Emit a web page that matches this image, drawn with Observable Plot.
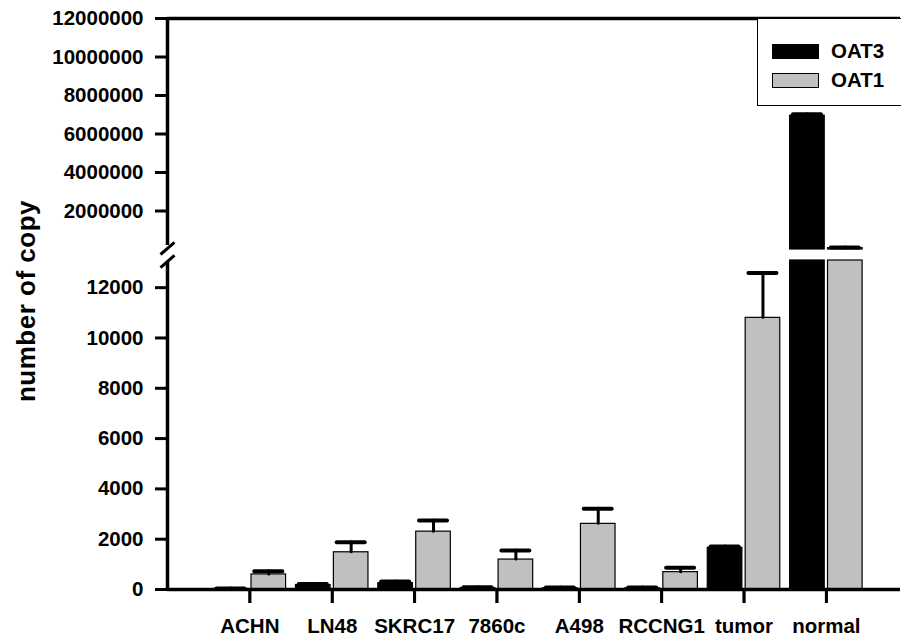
<!DOCTYPE html>
<html>
<head>
<meta charset="utf-8">
<script src="https://cdn.jsdelivr.net/npm/d3@7"></script>
<script src="https://cdn.jsdelivr.net/npm/@observablehq/plot@0.6"></script>
<style>
  body { margin: 0; background: #fff; }
  #chart { position: relative; width: 901px; height: 637px; overflow: hidden; background: #fff;
           font-family: "Liberation Sans", Arial, sans-serif; font-weight: bold; color: #000; }
  #chart svg { position: absolute; left: 0; top: 0; }
  #chart g[aria-label="y-axis tick"] { stroke-width: 3px; }
  #chart g[aria-label="x-axis tick"] { stroke-width: 3px; }
  #ylabel { position: absolute; left: 26px; top: 301px; transform: translate(-50%, -50%) rotate(-90deg);
            white-space: nowrap; font-size: 26px; letter-spacing: 0.5px; }
  #legend { position: absolute; left: 757px; top: 18px; width: 160px; height: 88px; box-sizing: border-box;
            border: 1.5px solid #000; background: #fff; }
  .item { position: absolute; left: 14px; height: 16px; display: flex; align-items: center; font-size: 20.5px; }
  .sw { width: 47px; height: 15px; box-sizing: border-box; border: 1.2px solid #000; margin-right: 12px; }
</style>
</head>
<body>
<div id="chart"></div>
<script>
// ---- data ----
const categories = ["ACHN", "LN48", "SKRC17", "7860c", "A498", "RCCNG1", "tumor", "normal"];
const series = ["OAT3", "OAT1"];
const oat3Values = [20, 180, 250, 60, 50, 50, 1660, 6950000];
const oat3Errors = [20, 40, 70, 30, 30, 30, 50, 80000];
const oat1Values = [600, 1480, 2300, 1190, 2610, 690, 10800, 70000];
const oat1Errors = [130, 400, 440, 360, 600, 170, 1780, 40000];
const upperTicks = [2000000, 4000000, 6000000, 8000000, 10000000, 12000000];
const lowerTicks = [0, 2000, 4000, 6000, 8000, 10000, 12000];
const seriesColors = ["#000000", "#c0c0c0"];
const axisLabel = "number of copy";

// ---- layout constants ----
const W = 901, H = 637;
const lowerTop = 260, lowerBottom = 589;
const lowerMax = 13080, upperMax = 12000000;
const barGap = 0.02, barSpan = 0.42, capHalf = 0.17;
const xTickDepth = 14 * lowerMax / (lowerBottom - lowerTop); // 14px expressed in lower data units

const rows = categories.flatMap((cat, i) => [
  {i, cat, s: 0, value: oat3Values[i], err: oat3Errors[i]},
  {i, cat, s: 1, value: oat1Values[i], err: oat1Errors[i]}
]);
const bx1 = d => d.s === 0 ? d.i - barGap - barSpan : d.i + barGap;
const bx2 = d => d.s === 0 ? d.i - barGap : d.i + barGap + barSpan;
const bxc = d => (bx1(d) + bx2(d)) / 2;

const style = {fontFamily: '"Liberation Sans", Arial, sans-serif', fontSize: "20.5px", fontWeight: "bold",
               background: "transparent", overflow: "visible", color: "#000"};
const xDomain = [-1, 7.9];
const colorScale = {domain: series, range: seriesColors};

function barMarks(sub, cap) {
  return [
    Plot.rectY(sub, {x1: bx1, x2: bx2, y1: 0, y2: d => Math.min(d.value, cap),
                     fill: d => series[d.s], stroke: "#000", strokeWidth: 1.2})
  ];
}
function errMarks(sub) {
  return [
    Plot.ruleX(sub, {x: bxc, y1: "value", y2: d => d.value + d.err, strokeWidth: 3, strokeLinecap: "round"}),
    Plot.ruleY(sub, {y: d => d.value + d.err, x1: d => bxc(d) - capHalf, x2: d => bxc(d) + capHalf,
                     strokeWidth: 4, strokeLinecap: "round"})
  ];
}

// lower panel (0 – 13,000)
const lower = Plot.plot({
  width: W, height: H, marginLeft: 167, marginRight: 1, marginTop: lowerTop, marginBottom: H - lowerBottom,
  style,
  color: colorScale,
  x: {domain: xDomain, ticks: d3.range(categories.length), tickFormat: i => categories[i],
      tickSize: 14, tickPadding: 15, label: null},
  y: {domain: [0, lowerMax], ticks: lowerTicks, tickFormat: d3.format("d"),
      tickSize: 12, tickPadding: 12, label: null},
  marks: [
    ...barMarks(rows, lowerMax),
    ...errMarks(rows.filter(d => d.value < lowerMax)),
    Plot.ruleX(d3.range(categories.length), {x: d => d, y1: 0, y2: -xTickDepth, strokeWidth: 2.5}),
    Plot.ruleY([0], {strokeWidth: 3.5}),
    Plot.ruleX([-1], {y1: 0, y2: 13000, strokeWidth: 3.5})
  ]
});

// upper panel (0 – 12,000,000)
const upperRows = rows.filter(d => d.value > lowerMax);
const upper = Plot.plot({
  width: W, height: H, marginLeft: 167, marginRight: 1, marginTop: 18, marginBottom: H - 249,
  style,
  color: colorScale,
  x: {domain: xDomain, axis: null},
  y: {domain: [0, upperMax], ticks: upperTicks, tickFormat: d3.format("d"),
      tickSize: 12, tickPadding: 12, label: null},
  marks: [
    ...barMarks(upperRows, upperMax),
    ...errMarks(upperRows),
    Plot.ruleY([upperMax], {strokeWidth: 3.5}),
    Plot.ruleX([-1], {y1: upperMax, y2: 210000, strokeWidth: 3.5}),
    // axis break slashes
    Plot.link([{a: -260000, b: 365000}, {a: -940000, b: -310000}],
              {x1: -1.085, x2: -0.915, y1: "a", y2: "b", strokeWidth: 3})
  ]
});

const chart = document.getElementById("chart");
chart.appendChild(lower);
chart.appendChild(upper);

const yl = document.createElement("div");
yl.id = "ylabel";
yl.textContent = axisLabel;
chart.appendChild(yl);

const legend = document.createElement("div");
legend.id = "legend";
series.forEach((name, k) => {
  const item = document.createElement("div");
  item.className = "item";
  item.style.top = (24 + k * 29) + "px";
  const sw = document.createElement("div");
  sw.className = "sw";
  sw.style.background = seriesColors[k];
  const t = document.createElement("span");
  t.textContent = name;
  item.appendChild(sw);
  item.appendChild(t);
  legend.appendChild(item);
});
chart.appendChild(legend);
</script>
</body>
</html>
